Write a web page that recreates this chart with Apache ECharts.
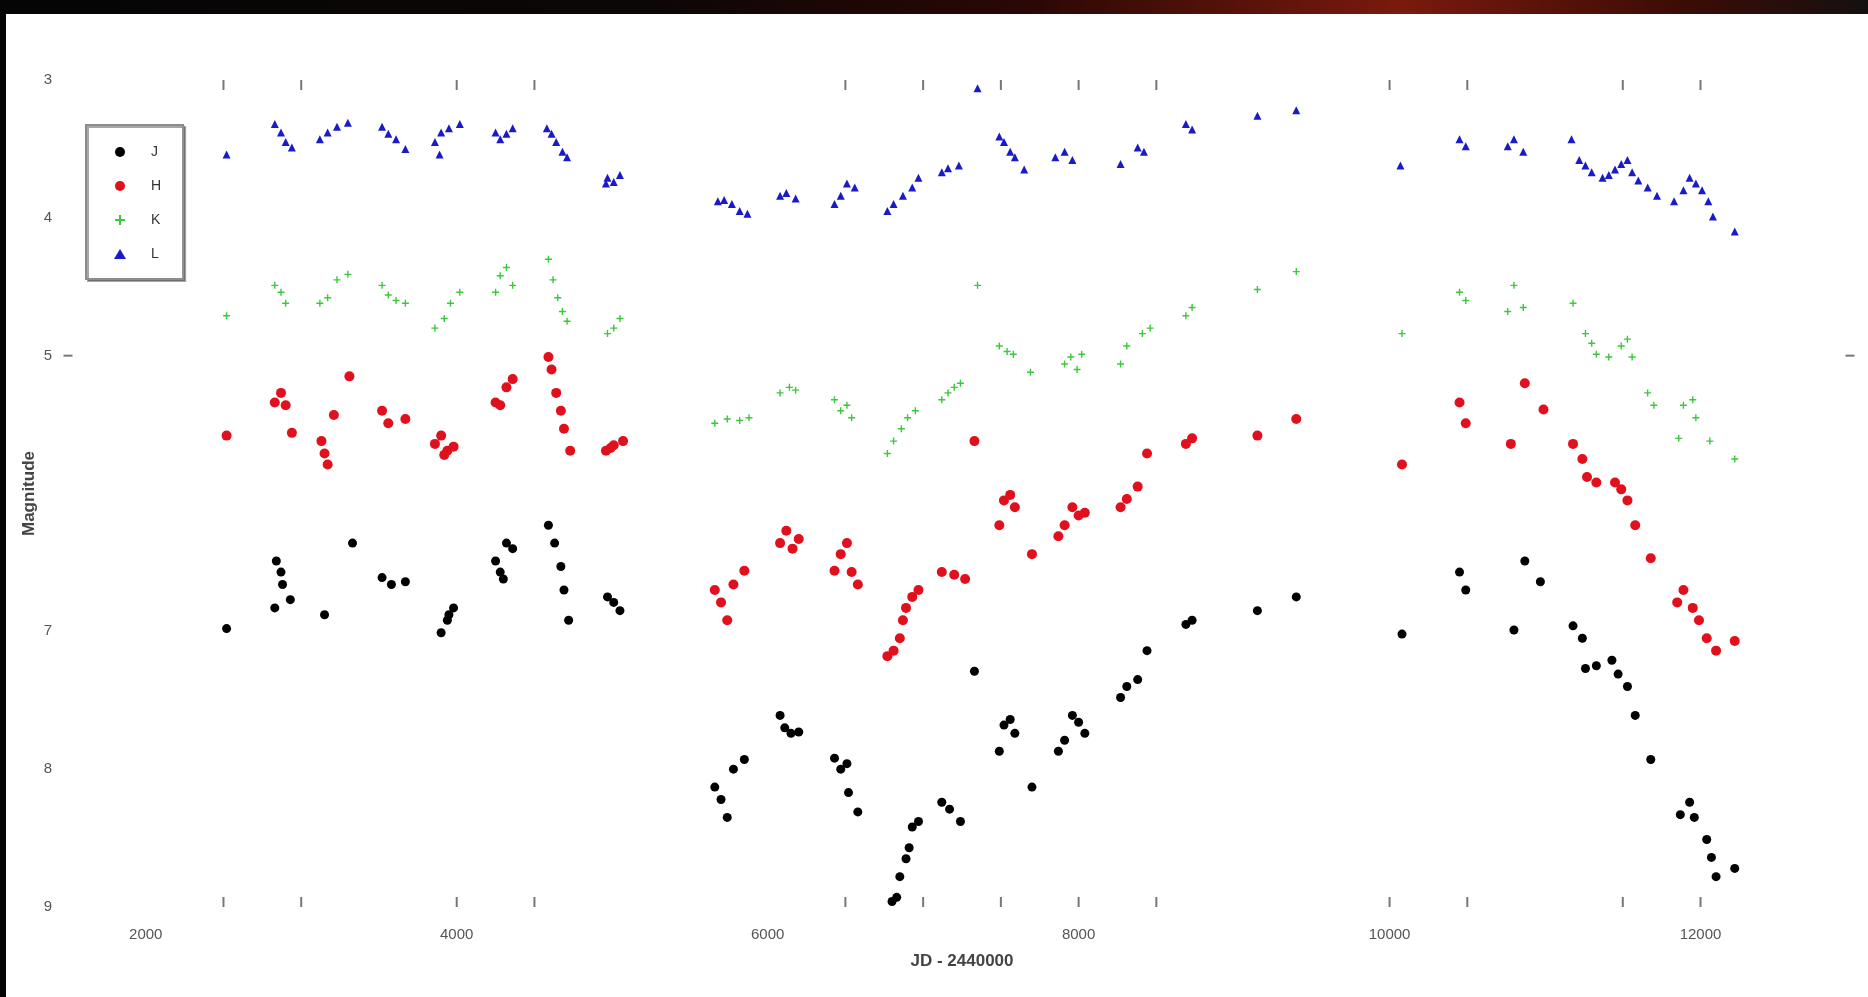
<!DOCTYPE html>
<html>
<head>
<meta charset="utf-8">
<script src="https://cdn.jsdelivr.net/npm/echarts@6/dist/echarts.min.js"></script>
<style>
html,body{margin:0;padding:0;background:#fff;}
#chart{width:1868px;height:997px;}
</style>
</head>
<body>
<div id="chart"></div>
<script>
// ---- Data (JD - 2440000, magnitude) ----
const bandNames = ['J', 'H', 'K', 'L'];

const dataJ = [
  [2520,6.98],[2840,6.49],[2870,6.57],[2880,6.66],[2830,6.83],[2930,6.77],[3150,6.88],[3330,6.36],
  [3520,6.61],[3580,6.66],[3670,6.64],[3900,7.01],[3940,6.92],[3980,6.83],[3950,6.88],[4250,6.49],
  [4280,6.57],[4320,6.36],[4360,6.40],[4300,6.62],[4590,6.23],[4630,6.36],[4670,6.53],[4690,6.70],
  [4720,6.92],[4970,6.75],[5010,6.79],[5050,6.85],
  [5660,8.13],[5700,8.22],[5740,8.35],[5780,8.00],[5850,7.93],[6080,7.61],[6110,7.70],[6150,7.74],
  [6200,7.73],[6430,7.92],[6470,8.00],[6510,7.96],[6520,8.17],[6580,8.31],[6800,8.96],[6830,8.93],
  [6850,8.78],[6890,8.65],[6910,8.57],[6930,8.42],[6970,8.38],[7120,8.24],[7170,8.29],[7240,8.38],
  [7330,7.29],[7490,7.87],[7520,7.68],[7560,7.64],[7590,7.74],[7700,8.13],[7870,7.87],[7910,7.79],
  [7960,7.61],[8000,7.66],[8040,7.74],[8270,7.48],[8310,7.40],[8380,7.35],[8440,7.14],[8690,6.95],
  [8730,6.92],[9150,6.85],[9400,6.75],
  [10080,7.02],[10450,6.57],[10490,6.70],[10800,6.99],[10870,6.49],[10970,6.64],[11180,6.96],
  [11240,7.05],[11260,7.27],[11330,7.25],[11430,7.21],[11470,7.31],[11530,7.40],[11580,7.61],
  [11680,7.93],[11870,8.33],[11930,8.24],[11960,8.35],[12040,8.51],[12070,8.64],[12100,8.78],[12220,8.72]
];

const dataH = [
  [2520,5.58],[2830,5.34],[2870,5.27],[2900,5.36],[2940,5.56],[3130,5.62],[3150,5.71],[3170,5.79],
  [3210,5.43],[3310,5.15],[3520,5.40],[3560,5.49],[3670,5.46],[3860,5.64],[3900,5.58],[3940,5.69],
  [3980,5.66],[3920,5.72],[4250,5.34],[4280,5.36],[4320,5.23],[4360,5.17],[4590,5.01],[4610,5.10],
  [4640,5.27],[4670,5.40],[4690,5.53],[4730,5.69],[4960,5.69],[5010,5.65],[5070,5.62],[4990,5.67],
  [5660,6.70],[5700,6.79],[5740,6.92],[5780,6.66],[5850,6.56],[6080,6.36],[6120,6.27],[6160,6.40],
  [6200,6.33],[6430,6.56],[6470,6.44],[6510,6.36],[6540,6.57],[6580,6.66],[6770,7.18],[6810,7.14],
  [6850,7.05],[6870,6.92],[6890,6.83],[6930,6.75],[6970,6.70],[7120,6.57],[7200,6.59],[7270,6.62],
  [7330,5.62],[7490,6.23],[7520,6.05],[7560,6.01],[7590,6.10],[7700,6.44],[7870,6.31],[7910,6.23],
  [7960,6.10],[8000,6.16],[8040,6.14],[8270,6.10],[8310,6.04],[8380,5.95],[8440,5.71],[8690,5.64],
  [8730,5.60],[9150,5.58],[9400,5.46],
  [10080,5.79],[10450,5.34],[10490,5.49],[10780,5.64],[10870,5.20],[10990,5.39],[11180,5.64],
  [11240,5.75],[11270,5.88],[11330,5.92],[11450,5.92],[11490,5.97],[11530,6.05],[11580,6.23],
  [11680,6.47],[11850,6.79],[11890,6.70],[11950,6.83],[11990,6.92],[12040,7.05],[12100,7.14],[12220,7.07]
];

const dataK = [
  [2520,4.71],[2830,4.49],[2870,4.54],[2900,4.62],[3120,4.62],[3170,4.58],[3230,4.45],[3300,4.41],
  [3520,4.49],[3560,4.56],[3610,4.60],[3670,4.62],[3860,4.80],[3920,4.73],[3960,4.62],[4020,4.54],
  [4250,4.54],[4280,4.42],[4320,4.36],[4360,4.49],[4590,4.30],[4620,4.45],[4650,4.58],[4680,4.68],
  [4710,4.75],[4970,4.84],[5010,4.80],[5050,4.73],
  [5660,5.49],[5740,5.46],[5820,5.47],[5880,5.45],[6080,5.27],[6140,5.23],[6180,5.25],[6430,5.32],
  [6470,5.40],[6510,5.36],[6540,5.45],[6770,5.71],[6810,5.62],[6860,5.53],[6900,5.45],[6950,5.40],
  [7120,5.32],[7160,5.27],[7200,5.23],[7240,5.20],[7350,4.49],[7490,4.93],[7540,4.97],[7580,4.99],
  [7690,5.12],[7910,5.06],[7950,5.01],[7990,5.10],[8020,4.99],[8270,5.06],[8310,4.93],[8410,4.84],
  [8460,4.80],[8690,4.71],[8730,4.65],[9150,4.52],[9400,4.39],
  [10080,4.84],[10450,4.54],[10490,4.60],[10760,4.68],[10800,4.49],[10860,4.65],[11180,4.62],
  [11260,4.84],[11300,4.91],[11330,4.99],[11410,5.01],[11490,4.93],[11530,4.88],[11560,5.01],
  [11660,5.27],[11700,5.36],[11860,5.60],[11890,5.36],[11950,5.32],[11970,5.45],[12060,5.62],[12220,5.75]
];

const dataL = [
  [2520,3.54],[2830,3.32],[2870,3.38],[2900,3.45],[2940,3.49],[3120,3.43],[3170,3.38],[3230,3.34],
  [3300,3.31],[3520,3.34],[3560,3.39],[3610,3.43],[3670,3.50],[3860,3.45],[3900,3.38],[3950,3.35],
  [4020,3.32],[3890,3.54],[4250,3.38],[4280,3.43],[4320,3.39],[4360,3.35],[4580,3.35],[4610,3.39],
  [4640,3.45],[4680,3.52],[4710,3.56],[4970,3.71],[5010,3.74],[5050,3.69],[4960,3.75],
  [5680,3.88],[5720,3.87],[5770,3.90],[5820,3.95],[5870,3.97],[6080,3.84],[6120,3.82],[6180,3.86],
  [6430,3.90],[6470,3.84],[6510,3.75],[6560,3.78],[6770,3.95],[6810,3.90],[6870,3.84],[6930,3.78],
  [6970,3.71],[7120,3.67],[7160,3.64],[7230,3.62],[7350,3.06],[7490,3.41],[7520,3.45],[7560,3.52],
  [7590,3.56],[7650,3.65],[7850,3.56],[7910,3.52],[7960,3.58],[8270,3.61],[8380,3.49],[8420,3.52],
  [8690,3.32],[8730,3.36],[9150,3.26],[9400,3.22],
  [10070,3.62],[10450,3.43],[10490,3.48],[10760,3.48],[10800,3.43],[10860,3.52],[11170,3.43],
  [11220,3.58],[11260,3.62],[11300,3.67],[11370,3.71],[11410,3.69],[11450,3.65],[11490,3.61],
  [11530,3.58],[11560,3.67],[11600,3.73],[11660,3.78],[11720,3.84],[11830,3.88],[11890,3.80],
  [11930,3.71],[11970,3.75],[12010,3.80],[12050,3.88],[12080,3.99],[12220,4.10]
];

// frame tick marks visible in the figure (JD values at top/bottom edges)
const frameTicksX = [2500, 3000, 4000, 4500, 6500, 7000, 7500, 8000, 8500, 10000, 10500, 11500, 12000];
const frameTicksY = [5];

const xMin = 1500, xMax = 13000, yMin = 3, yMax = 9;
const xLabelStep = 2000;

// ---- Chart ----
const chart = echarts.init(document.getElementById('chart'));

const tickTop = frameTicksX.map(v => [v, yMin]);
const tickBottom = frameTicksX.map(v => [v, yMax]);
const tickLeft = frameTicksY.map(v => [xMin, v]);
const tickRight = frameTicksY.map(v => [xMax, v]);

const font = 'Liberation Sans, Arial, sans-serif';

chart.setOption({
  backgroundColor: '#ffffff',
  animation: false,
  graphic: [
    {
      type: 'rect', left: 0, top: 0, silent: true, z: 100,
      shape: { width: 1868, height: 14 },
      style: {
        fill: new echarts.graphic.LinearGradient(0, 0, 1, 0, [
          { offset: 0, color: '#050505' },
          { offset: 0.35, color: '#0d0606' },
          { offset: 0.55, color: '#2a0805' },
          { offset: 0.75, color: '#7a1a0c' },
          { offset: 0.9, color: '#3c0c06' },
          { offset: 1, color: '#151010' }
        ])
      }
    },
    {
      type: 'rect', left: 0, top: 0, silent: true, z: 100,
      shape: { width: 6, height: 997 },
      style: { fill: '#050505' }
    }
  ],
  grid: { left: 68, right: 12, top: 80, bottom: 90, containLabel: false },
  legend: {
    data: bandNames,
    orient: 'vertical',
    left: 86,
    top: 125,
    itemGap: 20,
    itemWidth: 12,
    itemHeight: 10,
    padding: [20, 22, 18, 28],
    backgroundColor: '#ffffff',
    borderColor: '#8c8c8c',
    borderWidth: 2,
    borderRadius: 0,
    shadowColor: 'rgba(0,0,0,0.35)',
    shadowOffsetX: 2,
    shadowOffsetY: 2,
    shadowBlur: 0,
    textStyle: { fontFamily: font, fontSize: 14, color: '#333', padding: [0, 0, 0, 20] }
  },
  xAxis: {
    type: 'value',
    min: xMin,
    max: xMax,
    interval: 500,
    name: 'JD - 2440000',
    nameLocation: 'middle',
    nameGap: 46,
    nameTextStyle: { fontFamily: font, fontSize: 17, fontWeight: 'bold', color: '#444' },
    axisLine: { show: false },
    axisTick: { show: false },
    splitLine: { show: false },
    axisLabel: {
      margin: 20,
      fontFamily: font,
      fontSize: 15,
      color: '#555',
      showMinLabel: true,
      showMaxLabel: true,
      hideOverlap: false,
      formatter: v => (v % xLabelStep === 0 ? String(v) : '')
    }
  },
  yAxis: {
    type: 'value',
    min: yMin,
    max: yMax,
    interval: 1,
    inverse: true,
    name: 'Magnitude',
    nameLocation: 'middle',
    nameRotate: 90,
    nameGap: 30,
    nameMoveOverlap: false,
    nameTextStyle: { fontFamily: font, fontSize: 17, fontWeight: 'bold', color: '#444' },
    axisLine: { show: false },
    axisTick: { show: false },
    splitLine: { show: false },
    axisLabel: {
      margin: 16,
      fontFamily: font,
      fontSize: 15,
      color: '#555',
      formatter: v => (v === 6 ? '' : String(v))
    }
  },
  series: [
    {
      name: 'J', type: 'scatter', data: dataJ,
      symbol: 'circle', symbolSize: 9,
      itemStyle: { color: '#000000', opacity: 1 }
    },
    {
      name: 'H', type: 'scatter', data: dataH,
      symbol: 'circle', symbolSize: 10,
      itemStyle: { color: '#e0101c', opacity: 1 }
    },
    {
      name: 'K', type: 'scatter', data: dataK,
      symbol: 'path://M4,0H6V4H10V6H6V10H4V6H0V4H4Z', symbolSize: 7,
      itemStyle: { color: '#3cc83c', opacity: 1 }
    },
    {
      name: 'L', type: 'scatter', data: dataL,
      symbol: 'triangle', symbolSize: 8,
      itemStyle: { color: '#1a1ac8', opacity: 1 }
    },
    {
      name: 'tickTop', type: 'scatter', data: tickTop, silent: true,
      symbol: 'rect', symbolSize: [2, 10], symbolOffset: [0, 5],
      itemStyle: { color: '#777', opacity: 1 }
    },
    {
      name: 'tickBottom', type: 'scatter', data: tickBottom, silent: true,
      symbol: 'rect', symbolSize: [2, 10], symbolOffset: [0, -5],
      itemStyle: { color: '#777', opacity: 1 }
    },
    {
      name: 'tickLeft', type: 'scatter', data: tickLeft, silent: true,
      symbol: 'rect', symbolSize: [9, 2], symbolOffset: [0, 0],
      itemStyle: { color: '#777', opacity: 1 }
    },
    {
      name: 'tickRight', type: 'scatter', data: tickRight, silent: true,
      symbol: 'rect', symbolSize: [9, 2], symbolOffset: [-6, 0],
      itemStyle: { color: '#777', opacity: 1 }
    }
  ]
});
</script>
</body>
</html>
